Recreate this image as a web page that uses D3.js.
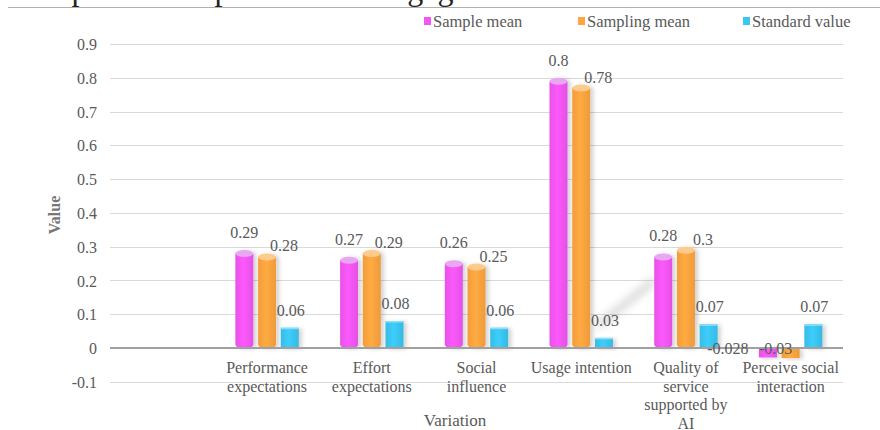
<!DOCTYPE html>
<html>
<head>
<meta charset="utf-8">
<script src="https://cdn.jsdelivr.net/npm/d3@7"></script>
<style>
  html, body { margin: 0; padding: 0; background: #fff; }
  svg { display: block; }
</style>
</head>
<body>
<svg id="chart" width="880" height="430"></svg>
<script>
// ---- data ----
const categories = ["", "Performance\nexpectations", "Effort\nexpectations", "Social\ninfluence",
  "Usage intention", "Quality of\nservice\nsupported by\nAI", "Perceive social\ninteraction"];
const seriesNames = ["Sample mean", "Sampling mean", "Standard value"];
const sampleMean = [null, 0.29, 0.27, 0.26, 0.8, 0.28, -0.028];
const samplingMean = [null, 0.28, 0.29, 0.25, 0.78, 0.3, -0.03];
const standardValue = [null, 0.06, 0.08, 0.06, 0.03, 0.07, 0.07];
const yTicks = [-0.1, 0, 0.1, 0.2, 0.3, 0.4, 0.5, 0.6, 0.7, 0.8, 0.9];
const seriesColors = ["#F456F4", "#FFA53F", "#3AC7F2"];
const capColors = ["#E9A6F2", "#FFCB8C", "#8FDDF6"];

const series = [sampleMean, samplingMean, standardValue];
const FONT = '"Liberation Serif", "Times New Roman", Times, "DejaVu Serif", serif';

const svg = d3.select("#chart");
const defs = svg.append("defs");
const sh = defs.append("filter").attr("id", "shadow").attr("x", "-30%").attr("y", "-10%").attr("width", "180%").attr("height", "130%");
sh.append("feDropShadow").attr("dx", 3).attr("dy", 1).attr("stdDeviation", 2).attr("flood-color", "#000").attr("flood-opacity", 0.18);
const blur = defs.append("filter").attr("id", "blur").attr("x", "-50%").attr("y", "-50%").attr("width", "200%").attr("height", "200%");
blur.append("feGaussianBlur").attr("stdDeviation", 4);

seriesColors.forEach((c, i) => {
  const g = defs.append("linearGradient").attr("id", "grad" + i).attr("x1", "0%").attr("x2", "100%");
  const col = d3.color(c);
  g.append("stop").attr("offset", "0%").attr("stop-color", col.darker(0.15));
  g.append("stop").attr("offset", "45%").attr("stop-color", col.brighter(0.1));
  g.append("stop").attr("offset", "100%").attr("stop-color", col.darker(0.2));
});

// ---- cut-off caption + rule at top ----
svg.append("text").attr("x", 3).attr("y", -0.5).attr("font-size", 32).attr("fill", "#222")
  .text("have positive impact on user engagement.");
svg.append("line").attr("x1", 8).attr("x2", 880).attr("y1", 7.5).attr("y2", 7.5)
  .attr("stroke", "#b0b0b0").attr("stroke-width", 1);

// ---- scales ----
const x0 = d3.scaleBand().domain(d3.range(categories.length)).range([110, 843]).padding(0);
const groupW = 63.4;
const x1 = d3.scaleBand().domain(d3.range(seriesNames.length))
  .range([(x0.bandwidth() - groupW) / 2, (x0.bandwidth() + groupW) / 2]).paddingInner(0.207);
const y = d3.scaleLinear().domain([-0.1, 0.9]).range([381.8, 44]);

// ---- gridlines ----
const grid = svg.append("g");
grid.selectAll("line").data(yTicks.filter(t => t !== 0)).join("line")
  .attr("x1", 110).attr("x2", 843)
  .attr("y1", d => Math.round(y(d)) + 0.5).attr("y2", d => Math.round(y(d)) + 0.5)
  .attr("stroke", "#d9d9d9").attr("stroke-width", 1);

// y tick labels
const yAxis = d3.axisLeft(y).tickValues(yTicks).tickSize(0).tickPadding(0)
  .tickFormat(d => String(+d.toFixed(1)));
const yg = svg.append("g").attr("transform", "translate(97,0)").call(yAxis);
yg.select(".domain").remove();
yg.attr("font-family", null).attr("font-size", null);
yg.selectAll("text").attr("font-size", 16).attr("fill", "#595959").attr("dy", "0.35em");

// decorative diagonal shadow artifact
const sx1 = x0(4) + x1(2) + x1.bandwidth() / 2, sx2 = x0(5) + x1(0) - 2;
svg.append("line").attr("x1", sx1 - 6).attr("y1", y(0.065)).attr("x2", sx2 + 2).attr("y2", y(0.2))
  .attr("stroke", "#777").attr("stroke-width", 7).attr("opacity", 0.3).attr("filter", "url(#blur)");

// ---- bars ----
const ry = 3.5;
const barsG = svg.append("g");
series.forEach((vals, si) => {
  vals.forEach((v, ci) => {
    if (v === null) return;
    const bx = x0(ci) + x1(si);
    const w = x1.bandwidth();
    const y0 = y(0);
    const g = barsG.append("g").attr("filter", "url(#shadow)");
    if (si < 2 && v > 0) {
      const yt = y(v) + ry;
      const p = d3.path();
      p.moveTo(bx, yt);
      p.lineTo(bx, y0 - ry);
      p.quadraticCurveTo(bx, y0, bx + w / 2, y0);
      p.quadraticCurveTo(bx + w, y0, bx + w, y0 - ry);
      p.lineTo(bx + w, yt);
      p.closePath();
      g.append("path").attr("d", p.toString()).attr("fill", "url(#grad" + si + ")");
      g.append("ellipse").attr("cx", bx + w / 2).attr("cy", yt).attr("rx", w / 2).attr("ry", ry)
        .attr("fill", capColors[si]);
    } else {
      const top = Math.min(y(v), y0), h = Math.abs(y(v) - y0);
      g.append("rect").attr("x", bx).attr("y", top).attr("width", w).attr("height", h)
        .attr("fill", "url(#grad" + si + ")");
      if (v > 0) {
        g.append("rect").attr("x", bx).attr("y", top).attr("width", w).attr("height", 1.5)
          .attr("fill", capColors[si]);
      }
    }
  });
});

// zero line
svg.append("line").attr("x1", 110).attr("x2", 843).attr("y1", y(0)).attr("y2", y(0))
  .attr("stroke", "#a0a0a0").attr("stroke-width", 2);

// ---- data labels ----
const labG = svg.append("g");
const posOff = [{dx: 0, dy: -12}, {dx: 17, dy: -2}, {dx: 1, dy: -12}];
const negOff = [{dx: -40}, {dx: -15}, {dx: 0}];
series.forEach((vals, si) => {
  vals.forEach((v, ci) => {
    if (v === null) return;
    const cx = x0(ci) + x1(si) + x1.bandwidth() / 2;
    let tx, ty;
    if (v >= 0) { tx = cx + posOff[si].dx; ty = y(v) + posOff[si].dy; }
    else { tx = cx + negOff[si].dx; ty = y(0) + 6; }
    labG.append("text").attr("x", tx).attr("y", ty).attr("text-anchor", "middle")
      .attr("font-size", 16).text(String(v));
  });
});

// ---- category labels ----
const catG = svg.append("g");
categories.forEach((c, ci) => {
  const cx = x0(ci) + x0.bandwidth() / 2;
  const t = catG.append("text").attr("text-anchor", "middle").attr("font-size", 16)
    .attr("x", cx).attr("y", 373);
  c.split("\n").forEach((line, li) => {
    t.append("tspan").attr("x", cx).attr("dy", li === 0 ? 0 : 18.5).text(line);
  });
});

// ---- axis titles ----
svg.append("text").attr("transform", "translate(60,215) rotate(-90)").attr("text-anchor", "middle")
  .attr("font-size", 16).attr("font-weight", "bold").attr("fill", "#777").text("Value");
svg.append("text").attr("x", 455).attr("y", 426).attr("text-anchor", "middle")
  .attr("font-size", 17).text("Variation");

// ---- legend ----
const legendX = [424, 578, 743];
const lg = svg.append("g");
seriesNames.forEach((n, i) => {
  lg.append("rect").attr("x", legendX[i]).attr("y", 17).attr("width", 7).attr("height", 8).attr("fill", seriesColors[i]);
  lg.append("text").attr("x", legendX[i] + 9).attr("y", 26.5).attr("font-size", 16.5).text(n);
});

// apply serif font to every text
svg.selectAll("text").style("font-family", FONT).each(function () {
  const s = d3.select(this);
  if (!s.attr("fill")) s.attr("fill", "#595959");
});
</script>
</body>
</html>
